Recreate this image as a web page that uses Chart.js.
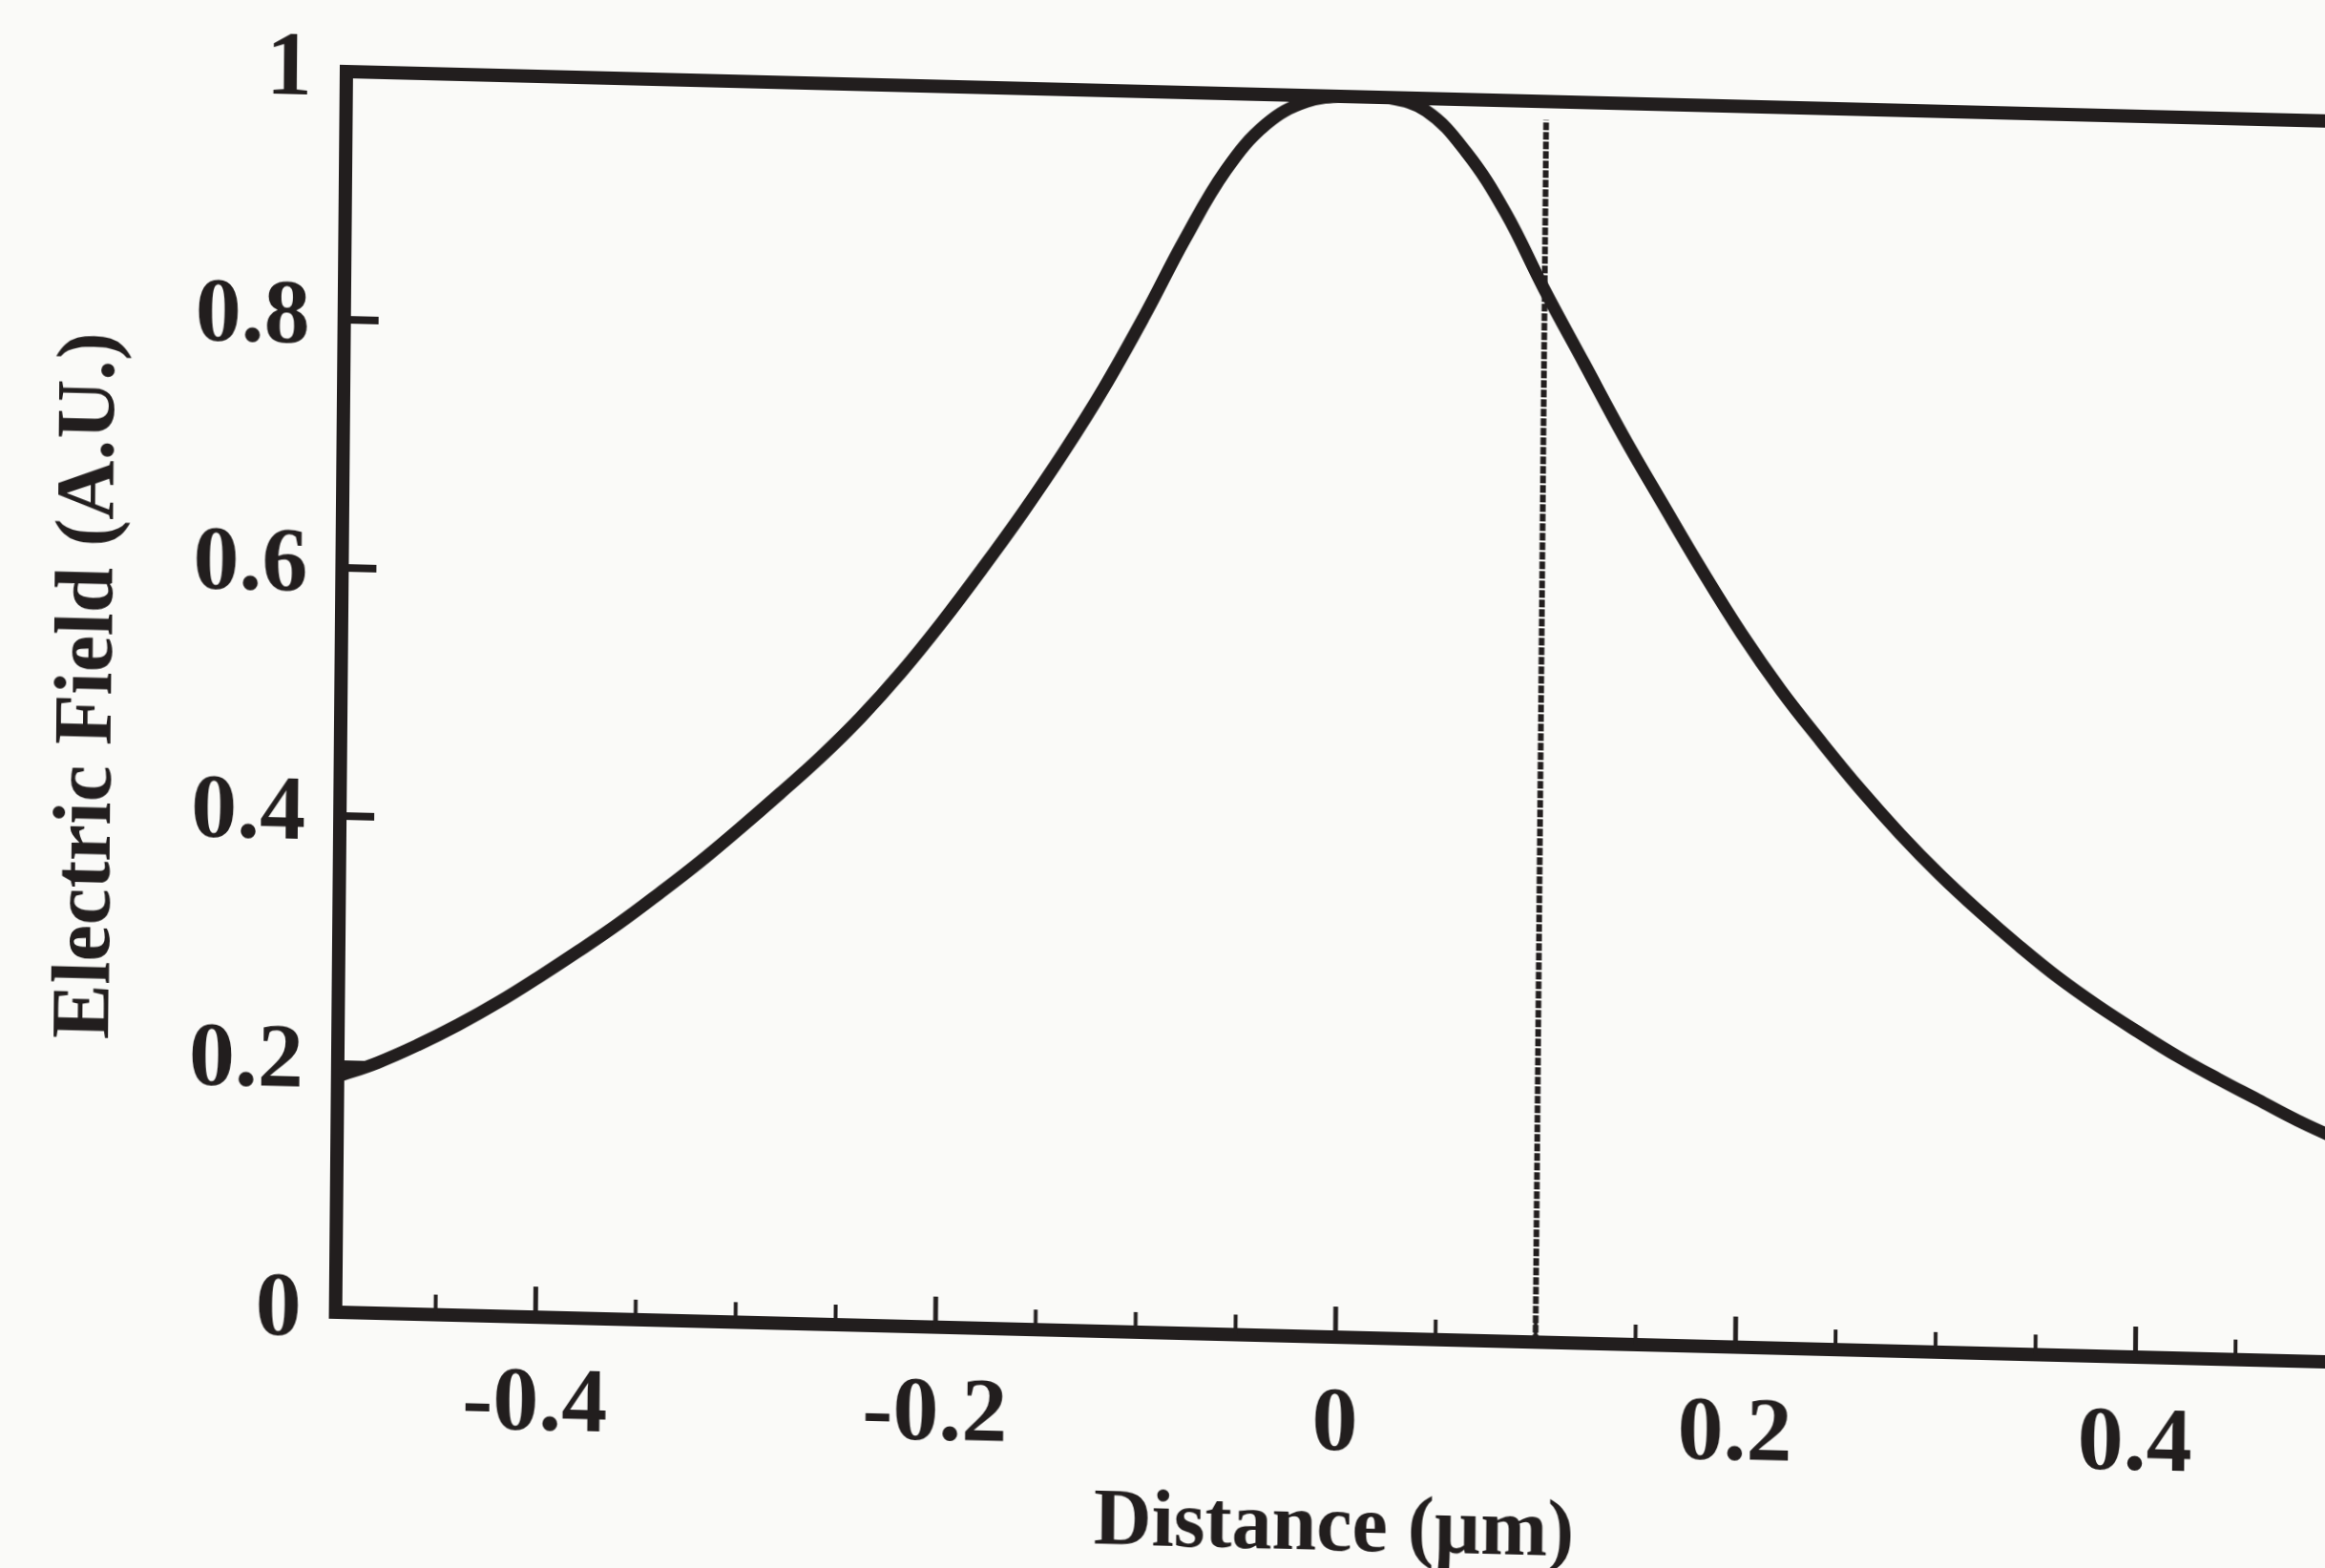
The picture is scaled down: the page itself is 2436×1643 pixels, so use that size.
<!DOCTYPE html>
<html>
<head>
<meta charset="utf-8">
<script src="https://cdn.jsdelivr.net/npm/chart.js@4.4.1/dist/chart.umd.min.js"></script>
<style>
  html, body { margin: 0; padding: 0; background: #fafaf8; overflow: hidden; width: 2436px; height: 1643px; }
  #wrap { position: absolute; left: 0; top: 0; width: 2465px; height: 1643px; }
  #c { display: block; transform-origin: 363px 73px; transform: rotate(0.5deg) skewY(0.93deg); }
</style>
</head>
<body>
<div id="wrap"><canvas id="c" width="2465" height="1643"></canvas></div>
<script>
// ---- data ----
const distance = [-0.50,-0.48,-0.46,-0.44,-0.42,-0.40,-0.38,-0.36,-0.34,-0.32,-0.30,-0.28,-0.26,-0.24,-0.22,-0.20,-0.18,-0.16,-0.14,-0.12,-0.10,-0.08,-0.06,-0.04,-0.02,0.00,0.02,0.04,0.06,0.08,0.10,0.12,0.14,0.16,0.18,0.20,0.22,0.24,0.26,0.28,0.30,0.32,0.34,0.36,0.38,0.40,0.42,0.44,0.46,0.48,0.50];
const field = [0.190,0.202,0.217,0.234,0.253,0.274,0.296,0.319,0.344,0.370,0.398,0.427,0.457,0.490,0.527,0.568,0.612,0.658,0.707,0.760,0.819,0.882,0.938,0.976,0.995,1.000,1.000,0.990,0.958,0.910,0.848,0.790,0.732,0.678,0.625,0.575,0.530,0.490,0.452,0.417,0.385,0.356,0.329,0.304,0.282,0.262,0.243,0.226,0.210,0.194,0.180];
const markerX = [0.1, 0.1];
const markerY = [0, 0.985];
const xTickValues = [-0.4, -0.2, 0, 0.2, 0.4];
const xTickLabels = ['-0.4', '-0.2', '0', '0.2', '0.4'];
const xMinorTicks = [-0.45,-0.35,-0.3,-0.25,-0.15,-0.1,-0.05,0.05,0.1,0.15,0.25,0.3,0.35,0.45];
const yTickValues = [0, 0.2, 0.4, 0.6, 0.8, 1];
const yTickLabels = ['0', '0.2', '0.4', '0.6', '0.8', '1'];
const yInnerTicks = [0.2, 0.4, 0.6, 0.8];
const xTitle = 'Distance (\u00b5m)';
const yTitle = 'Electric Field (A.U.)';

const INK = '#221e1e';

const framePlugin = {
  id: 'frame',
  afterDatasetsDraw(chart) {
    const ctx = chart.ctx, a = chart.chartArea;
    const xs = chart.scales.x, ys = chart.scales.y;
    ctx.save();
    ctx.strokeStyle = INK;
    ctx.lineCap = 'butt';
    // top border
    ctx.lineWidth = 14;
    ctx.beginPath();
    ctx.moveTo(a.left - 7, a.top);
    ctx.lineTo(a.right + 10, a.top);
    ctx.stroke();
    // inward major x ticks
    ctx.lineWidth = 5;
    xTickValues.forEach(v => {
      const px = xs.getPixelForValue(v);
      ctx.beginPath(); ctx.moveTo(px, a.bottom); ctx.lineTo(px, a.bottom - 32); ctx.stroke();
    });
    ctx.lineWidth = 4;
    xMinorTicks.forEach(v => {
      const px = xs.getPixelForValue(v);
      ctx.beginPath(); ctx.moveTo(px, a.bottom); ctx.lineTo(px, a.bottom - 21); ctx.stroke();
    });
    // inward y ticks
    ctx.lineWidth = 8;
    yInnerTicks.forEach(v => {
      const py = ys.getPixelForValue(v);
      ctx.beginPath(); ctx.moveTo(a.left, py); ctx.lineTo(a.left + 36, py); ctx.stroke();
    });
    ctx.restore();
  }
};

new Chart(document.getElementById('c'), {
  type: 'scatter',
  data: {
    datasets: [
      {
        data: distance.map((x, i) => ({ x: x, y: field[i] })),
        showLine: true,
        borderColor: INK,
        borderWidth: 13,
        pointRadius: 0,
        tension: 0.4,
        fill: false
      },
      {
        data: markerX.map((x, i) => ({ x: x, y: markerY[i] })),
        showLine: true,
        borderColor: INK,
        borderWidth: 6,
        borderDash: [8, 2],
        pointRadius: 0,
        fill: false
      }
    ]
  },
  options: {
    responsive: false,
    animation: false,
    devicePixelRatio: 1,
    layout: { padding: { left: 0, top: 75, right: 6, bottom: 0 } },
    plugins: { legend: { display: false }, tooltip: { enabled: false } },
    scales: {
      x: {
        type: 'linear',
        min: -0.5, max: 0.5,
        afterFit(s) { s.height = 268; },
        afterBuildTicks(s) { s.ticks = xTickValues.map(v => ({ value: v })); },
        grid: { display: true, drawOnChartArea: false, drawTicks: false, color: 'rgba(0,0,0,0)' },
        border: { display: true, color: INK, width: 14 },
        ticks: {
          padding: 36,
          color: INK,
          font: { family: 'Liberation Serif', weight: 'bold', size: 96 },
          callback(v) { const i = xTickValues.indexOf(v); return i >= 0 ? xTickLabels[i] : ''; }
        },
        title: {
          display: true, text: xTitle, color: INK,
          font: { family: 'Liberation Serif', weight: 'bold', size: 84 },
          padding: { top: 0, bottom: 16 }
        }
      },
      y: {
        type: 'linear',
        min: 0, max: 1,
        afterFit(s) { s.width = 363; },
        afterBuildTicks(s) { s.ticks = yTickValues.map(v => ({ value: v })); },
        grid: { display: true, drawOnChartArea: false, drawTicks: false, color: 'rgba(0,0,0,0)' },
        border: { display: true, color: INK, width: 14 },
        ticks: {
          padding: 36,
          color: INK,
          font: { family: 'Liberation Serif', weight: 'bold', size: 96, lineHeight: 0.5 },
          callback(v) { const i = yTickValues.indexOf(v); return i >= 0 ? yTickLabels[i] : ''; }
        },
        title: {
          display: true, text: yTitle, color: INK,
          font: { family: 'Liberation Serif', weight: 'bold', size: 86 },
          padding: { top: 48, bottom: 0 }
        }
      }
    }
  },
  plugins: [framePlugin]
});
</script>
</body>
</html>
